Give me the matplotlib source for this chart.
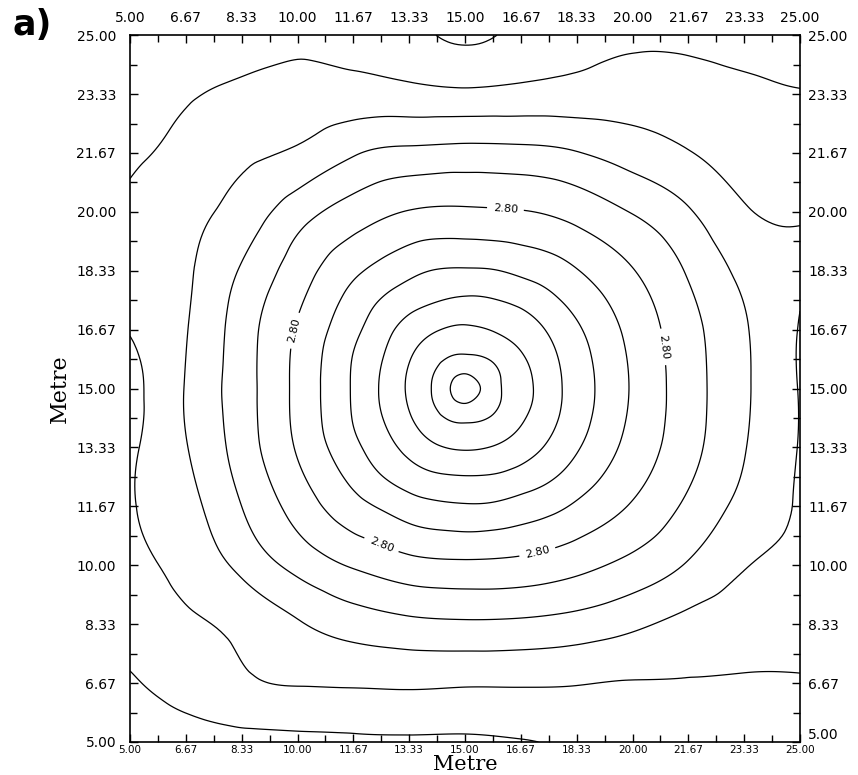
import numpy as np
import matplotlib
matplotlib.use("Agg")
import matplotlib.pyplot as plt
import matplotlib.tri as mtri

# coarse grid, x and y in metres
grid_m = 5 + 20 / 12 * np.arange(13)
# rows: y = 5.00 ... 25.00, columns: x = 5.00 ... 25.00
field = np.array([
    [1.68, 1.70, 1.72, 1.74, 1.76, 1.77, 1.77, 1.79, 1.83, 1.87, 1.90, 1.90, 1.88],
    [1.78, 1.88, 1.97, 2.01, 2.02, 2.03, 2.02, 2.02, 2.01, 1.99, 1.99, 1.98, 1.98],
    [1.88, 1.97, 2.05, 2.18, 2.29, 2.35, 2.37, 2.36, 2.32, 2.24, 2.14, 2.10, 2.10],
    [1.96, 2.06, 2.25, 2.46, 2.62, 2.73, 2.76, 2.74, 2.66, 2.54, 2.38, 2.21, 2.18],
    [1.99, 2.13, 2.40, 2.68, 2.93, 3.11, 3.18, 3.12, 2.97, 2.78, 2.56, 2.34, 2.18],
    [1.97, 2.19, 2.49, 2.82, 3.15, 3.46, 3.62, 3.50, 3.22, 2.93, 2.67, 2.41, 2.19],
    [1.93, 2.21, 2.51, 2.85, 3.22, 3.63, 4.07, 3.68, 3.31, 2.98, 2.69, 2.43, 2.19],
    [2.01, 2.19, 2.50, 2.82, 3.15, 3.48, 3.63, 3.51, 3.23, 2.94, 2.67, 2.42, 2.19],
    [2.04, 2.17, 2.42, 2.70, 2.96, 3.15, 3.22, 3.16, 3.01, 2.81, 2.58, 2.35, 2.22],
    [2.03, 2.14, 2.28, 2.51, 2.69, 2.81, 2.83, 2.81, 2.73, 2.59, 2.42, 2.22, 2.18],
    [1.97, 2.06, 2.16, 2.23, 2.38, 2.45, 2.47, 2.46, 2.41, 2.31, 2.21, 2.12, 2.08],
    [1.90, 1.98, 2.04, 2.08, 2.08, 2.06, 2.04, 2.06, 2.08, 2.10, 2.08, 2.04, 2.01],
    [1.82, 1.86, 1.90, 1.93, 1.92, 1.86, 1.76, 1.85, 1.92, 1.96, 1.95, 1.92, 1.86],
])

# finer readings round the peak, x and y = 11.67 ... 18.33
core_m = 15 + 20 / 24 * np.arange(-4, 5)
core_field = np.array([
    [2.93, 3.02, 3.11, 3.16, 3.18, 3.17, 3.12, 3.06, 2.97],
    [3.05, 3.19, 3.30, 3.37, 3.39, 3.38, 3.32, 3.23, 3.11],
    [3.15, 3.31, 3.46, 3.58, 3.62, 3.59, 3.50, 3.37, 3.22],
    [3.21, 3.39, 3.58, 3.76, 3.85, 3.78, 3.63, 3.46, 3.29],
    [3.22, 3.42, 3.63, 3.86, 4.07, 3.88, 3.68, 3.49, 3.31],
    [3.21, 3.39, 3.59, 3.76, 3.85, 3.78, 3.63, 3.46, 3.29],
    [3.15, 3.32, 3.48, 3.59, 3.63, 3.59, 3.51, 3.38, 3.23],
    [3.07, 3.21, 3.32, 3.39, 3.43, 3.41, 3.35, 3.25, 3.13],
    [2.96, 3.06, 3.15, 3.21, 3.22, 3.21, 3.16, 3.10, 3.01],
])

levels = [1.8, 2.0, 2.2, 2.4, 2.6, 3.0, 3.2, 3.4, 3.6, 3.8, 4.0]
label_level = [2.8]
tick_m = 5 + 20 / 12 * np.arange(13)

# merge both grids into one point cloud
X, Y = np.meshgrid(grid_m, grid_m)
CX, CY = np.meshgrid(core_m, core_m)
outside = ~((X > 11) & (X < 19) & (Y > 11) & (Y < 19))
px = np.concatenate([X[outside], CX.ravel()])
py = np.concatenate([Y[outside], CY.ravel()])
pz = np.concatenate([field[outside], core_field.ravel()])

tri = mtri.Triangulation(px, py)
interp = mtri.CubicTriInterpolator(tri, pz, kind='min_E')
tri_f, z_f = mtri.UniformTriRefiner(tri).refine_field(pz, triinterpolator=interp, subdiv=4)

fig = plt.figure(figsize=(8.58, 7.75), dpi=100)
ax = fig.add_axes([0.1515, 0.0426, 0.781, 0.912])

ax.tricontour(tri_f, z_f, levels=levels, colors='k', linewidths=0.9)
cs = ax.tricontour(tri_f, z_f, levels=label_level, colors='k', linewidths=0.9)
lab_pos = [(16.2, 20.0), (10.1, 16.6), (21.1, 16.2), (12.6, 10.8), (17.2, 10.2)]
ax.clabel(cs, manual=lab_pos, fmt='%.2f', fontsize=8, inline=True, inline_spacing=6)

ax.set_xlim(5, 25)
ax.set_ylim(5, 25)
labels = ['%.2f' % t for t in tick_m]
ax.set_xticks(tick_m, labels)
ax.set_yticks(tick_m, labels)
ax.set_xticks(5 + 20 / 24 * np.arange(25), minor=True)
ax.set_yticks(5 + 20 / 24 * np.arange(25), minor=True)
ax.tick_params(which='both', direction='in', top=True, right=True, width=1)
ax.tick_params(which='major', length=6)
ax.tick_params(which='minor', length=5)
ax.tick_params(axis='x', which='major', pad=2, labelsize=7.5)
ax.tick_params(axis='y', which='major', pad=10, labelsize=10)
for s in ax.spines.values():
    s.set_linewidth(1.2)

# labels along the top and right edges
secx = ax.secondary_xaxis('top')
secx.set_xticks(tick_m, labels)
secx.tick_params(length=0, pad=7, labelsize=10)
secx.spines['top'].set_visible(False)
secy = ax.secondary_yaxis('right')
secy.set_yticks(tick_m, labels)
secy.tick_params(length=0, pad=6, labelsize=10)
secy.spines['right'].set_visible(False)
# keep the corner label clear of the bottom "25.00"
secy.get_yticklabels()[0].set_verticalalignment('bottom')

ax.set_xlabel('Metre', family='DejaVu Serif', fontsize=15, labelpad=0)
ax.set_ylabel('Metre', family='DejaVu Serif', fontsize=16, labelpad=4)
fig.text(0.015, 0.99, 'a)', fontsize=25, fontweight='bold', va='top', ha='left')

fig.savefig('out.png')
